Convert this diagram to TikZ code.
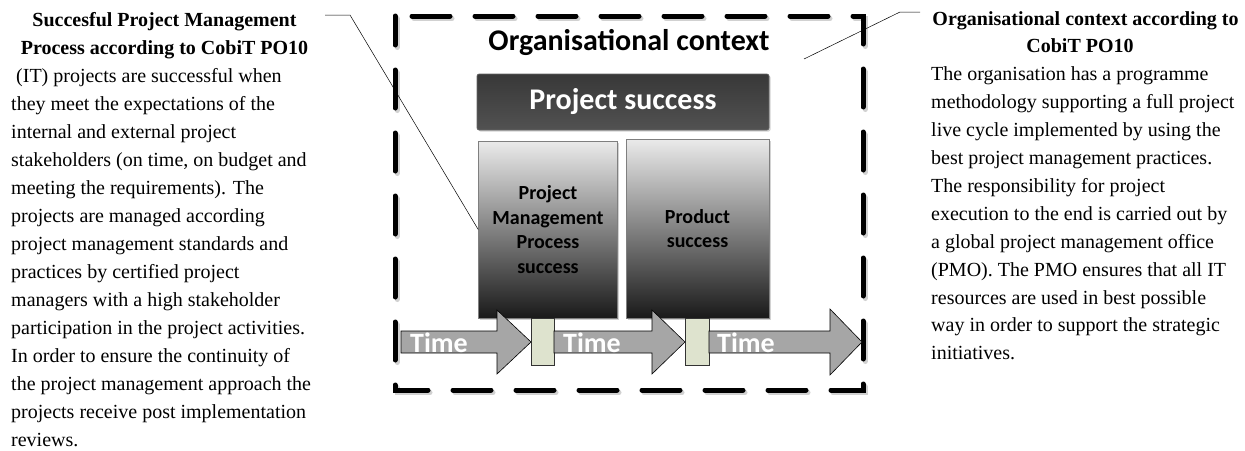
\documentclass[tikz,border=0pt]{standalone}
\usepackage{fontspec}
\setmainfont{Liberation Serif}
\newfontfamily\diafont{Carlito}
\usetikzlibrary{shadows}
\definecolor{arrowgray}{HTML}{A6A6A6}
\definecolor{tabcol}{HTML}{DEE3CE}
\definecolor{framegray}{HTML}{7F7F7F}
\begin{document}
\begin{tikzpicture}[x=1pt,y=-1pt,
  txt/.style={inner sep=0pt,font=\fontsize{20}{28}\selectfont},
  ttl/.style={txt,anchor=base,font=\fontsize{20}{28}\selectfont\bfseries},
  body/.style={txt,anchor=base west},
  succbox/.style={draw=framegray,line width=0.6pt,top color=black!8,bottom color=black!90,
    inner sep=0pt,align=center,font=\diafont\bfseries\fontsize{20}{24.5}\selectfont,
    drop shadow={opacity=0.35,shadow xshift=1.5pt,shadow yshift=-1.5pt}},
  timearrow/.style={draw=black,line width=0.6pt,fill=arrowgray},
  tab/.style={draw=black!80,line width=0.6pt,fill=tabcol},
  timelbl/.style={inner sep=0pt,anchor=base west,text=white,font=\diafont\bfseries\fontsize{28}{30}\selectfont},
  callout/.style={draw=black,line width=0.5pt},
  frame/.style={line width=5pt,line cap=round,dash pattern=on 38pt off 25pt,dash phase=46pt}
]
\useasboundingbox (0,0) rectangle (1245,450);
\fill[white] (0,0) rectangle (1245,450);

% organisational frame (shadow + dashes)
\draw[frame,black!18,shift={(2,2.5)}] (395,16) -- (863,16) -- (863,390) -- (395,390) -- cycle;
\draw[frame,black] (395,16) -- (863,16) -- (863,390) -- (395,390) -- cycle;

\node[inner sep=0pt,anchor=base,font=\diafont\bfseries\fontsize{30}{32}\selectfont] (oc) at (629,50) {Organisational context};

% project success bar
\node[draw=black!60,line width=0.6pt,rounded corners=2pt,top color=black!78,bottom color=black!68,
  minimum width=292pt,minimum height=56pt,inner sep=0pt,text=white,
  font=\diafont\bfseries\fontsize{30}{32}\selectfont,
  drop shadow={opacity=0.35,shadow xshift=1.5pt,shadow yshift=-1.5pt}] (ps) at (623,102) {Project success};

% success boxes
\node[succbox,minimum width=139pt,minimum height=177pt] (pm) at (548,229.5) {Project\\Management\\Process\\success};
\node[succbox,minimum width=143pt,minimum height=179pt] (prod) at (697.5,228.5) {Product\\success};

% tabs
\node[tab,minimum width=23pt,minimum height=47pt,inner sep=0pt] (t1) at (542.5,341.5) {};
\node[tab,minimum width=24pt,minimum height=47pt,inner sep=0pt] (t2) at (697,341.5) {};

% time arrows
\draw[timearrow] (401,331) -- (497,331) -- (497,310) -- (531,342) -- (497,374) -- (497,353) -- (401,353) -- cycle;
\draw[timearrow] (554,331) -- (652,331) -- (652,310) -- (685,342) -- (652,374) -- (652,353) -- (554,353) -- cycle;
\draw[timearrow] (709,331) -- (830,331) -- (830,309) -- (862,342) -- (830,375) -- (830,353) -- (709,353) -- cycle;
\node[timelbl] (time1) at (410,352) {Time};
\node[timelbl] (time2) at (563,352) {Time};
\node[timelbl] (time3) at (717,352) {Time};

% left text
\node[ttl] (lt0) at (164.5,26.5) {Succesful Project Management};
\node[ttl] (lt1) at (164.5,54.5) {Process according to CobiT PO10};
\foreach \t [count=\i from 2] in {%
  {\ (IT) projects are successful when},
  {they meet the expectations of the},
  {internal and external project},
  {stakeholders (on time, on budget and},
  {meeting the requirements). The},
  {projects are managed according},
  {project management standards and},
  {practices by certified project},
  {managers with a high stakeholder},
  {participation in the project activities.},
  {In order to ensure the continuity of},
  {the project management approach the},
  {projects receive post implementation},
  {reviews.}}
  \node[body] (lt\i) at (11,26.5+28*\i) {\t};

% right text
\node[ttl] (rt0) at (1085.5,25) {Organisational context according to};
\node[ttl] (rt1) at (1080,52.9) {CobiT PO10};
\foreach \t [count=\i from 2] in {%
  {The organisation has a programme},
  {methodology supporting a full project},
  {live cycle implemented by using the},
  {best project management practices.},
  {The responsibility for project},
  {execution to the end is carried out by},
  {a global project management office},
  {(PMO). The PMO ensures that all IT},
  {resources are used in best possible},
  {way in order to support the strategic},
  {initiatives.}}
  \node[body] (rt\i) at (931,25+27.9*\i) {\t};

% callout lines
\coordinate (lcs) at (325,15);
\coordinate (lck) at (350,15);
\draw[callout] (lcs) -- (lck) -- (pm.west);
\coordinate (rcs) at (920,12);
\coordinate (rck) at (900,12);
\coordinate (rce) at (804,59);
\draw[callout] (rcs) -- (rck) -- (rce);
\end{tikzpicture}
\end{document}
